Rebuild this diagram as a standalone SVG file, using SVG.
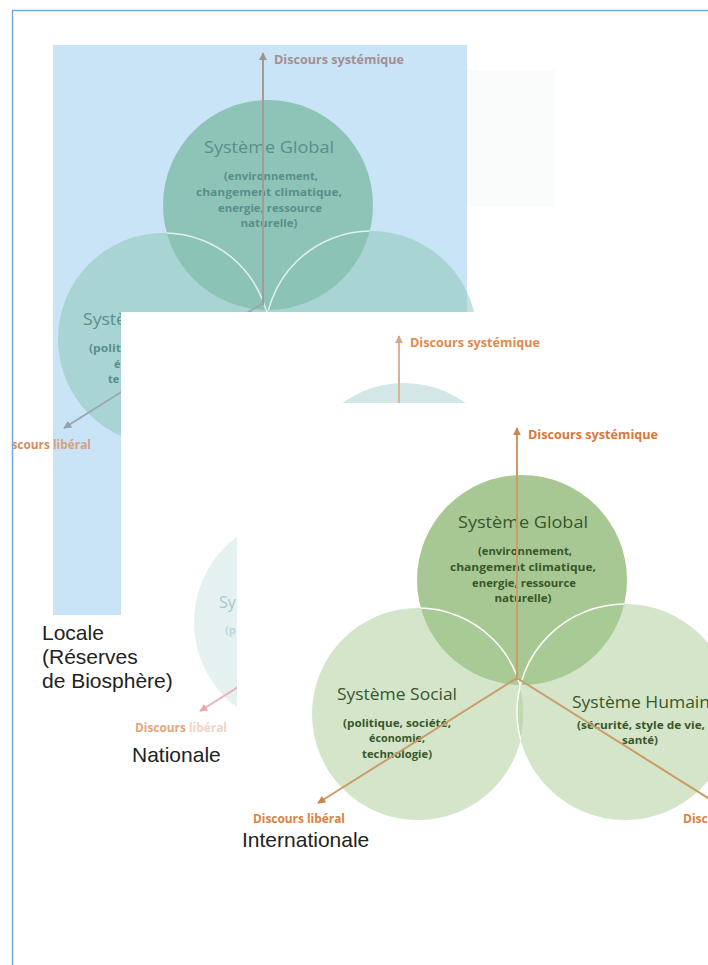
<svg xmlns="http://www.w3.org/2000/svg" width="708" height="965" viewBox="0 0 708 965">
<defs>
<style>
.lbl{font-family:"Liberation Sans",Arial,sans-serif;font-size:21px;fill:#222}
.t{font-family:"Open Sans","Liberation Sans",sans-serif;text-anchor:middle}
.ts{font-family:"Open Sans","Liberation Sans",sans-serif}
.ti{font-size:16px}
.sb{font-size:11px;font-weight:bold}
.dl{font-family:"Open Sans","Liberation Sans",sans-serif;font-size:12px;font-weight:bold}
.arc{fill:none;stroke:#fff;stroke-width:1.5}
.p1 .glob{fill:#8ec4b8}
.p1 .bot{fill:#88c3b1;fill-opacity:.5}
.p1 .arc{stroke-opacity:.75}
.p1 .tt{fill:#5a8e89}
.p1 .ln{stroke:#a39b96;stroke-width:2;fill:none}
.p1 .ln2{stroke:#98aab0;stroke-width:2;fill:none}
.p2 .glob{fill:#d3e8e6}
.p2 .bot{fill:#e4f1f0}
.p2 .ln{stroke:#dab192;stroke-width:2;fill:none}
.p2 .ln2{stroke:#e8b6b9;stroke-width:2;fill:none}
.p3 .glob{fill:#a7c892}
.p3 .bot{fill:#a9cb95;fill-opacity:.5}
.p3 .tt{fill:#38572a}
.p3 .ln{stroke:#c99c68;stroke-width:2;fill:none}
</style>
<marker id="a1" viewBox="0 0 10 10" refX="9" refY="5" markerWidth="8" markerHeight="8" markerUnits="userSpaceOnUse" orient="auto"><path d="M0,0 L10,5 L0,10 z" fill="#9c948f"/></marker>
<marker id="a1b" viewBox="0 0 10 10" refX="9" refY="5" markerWidth="8" markerHeight="8" markerUnits="userSpaceOnUse" orient="auto"><path d="M0,0 L10,5 L0,10 z" fill="#8fa3aa"/></marker>
<marker id="a2" viewBox="0 0 10 10" refX="9" refY="5" markerWidth="8" markerHeight="8" markerUnits="userSpaceOnUse" orient="auto"><path d="M0,0 L10,5 L0,10 z" fill="#d9a47f"/></marker>
<marker id="a2b" viewBox="0 0 10 10" refX="9" refY="5" markerWidth="8" markerHeight="8" markerUnits="userSpaceOnUse" orient="auto"><path d="M0,0 L10,5 L0,10 z" fill="#e6a8ad"/></marker>
<marker id="a3" viewBox="0 0 10 10" refX="9" refY="5" markerWidth="8" markerHeight="8" markerUnits="userSpaceOnUse" orient="auto"><path d="M0,0 L10,5 L0,10 z" fill="#c8874f"/></marker>
<clipPath id="cp1"><path d="M13,11 H708 V312 H121 V965 H13 Z"/></clipPath>
<clipPath id="cp2"><path d="M121,312 H708 V403 H237 V965 H121 Z"/></clipPath>
<clipPath id="cp3"><path d="M237,403 H708 V965 H237 Z"/></clipPath>
<!-- local (panel) coordinates -->
<clipPath id="inSocialArc"><circle cx="522" cy="580" r="105"/><circle cx="625" cy="712" r="108"/></clipPath>
<clipPath id="inHumainArc"><circle cx="522" cy="580" r="105"/><circle cx="418" cy="714" r="106"/></clipPath>
</defs>
<rect width="708" height="965" fill="#fff"/>

<!-- Panel 1 : Locale -->
<g id="panel-locale" class="p1" clip-path="url(#cp1)">
  <rect x="53" y="45" width="414" height="570" fill="#c8e4f6"/>
  <rect x="467" y="70" width="88" height="137" fill="#fafbfb"/>
  <g transform="translate(-254,-375)">
    <g id="p1-global">
      <circle class="glob" cx="522" cy="580" r="105"/>
    </g>
    <g id="p1-social"><circle class="bot" cx="418" cy="714" r="106"/><circle class="arc" cx="418" cy="714" r="106" clip-path="url(#inSocialArc)"/></g>
    <g id="p1-humain"><circle class="bot" cx="625" cy="712" r="106"/><circle class="arc" cx="625" cy="712" r="106" clip-path="url(#inHumainArc)"/></g>
    <g id="p1-global-text" class="t tt">
      <text class="ti" x="523" y="528" textLength="130" lengthAdjust="spacingAndGlyphs">Système Global</text>
      <text class="sb" x="525" y="555" textLength="94" lengthAdjust="spacingAndGlyphs">(environnement,</text>
      <text class="sb" x="523" y="571" textLength="146" lengthAdjust="spacingAndGlyphs">changement climatique,</text>
      <text class="sb" x="524" y="587" textLength="104" lengthAdjust="spacingAndGlyphs">energie, ressource</text>
      <text class="sb" x="523" y="602" textLength="57" lengthAdjust="spacingAndGlyphs">naturelle)</text>
    </g>
    <g id="p1-connectors">
      <line class="ln" x1="517" y1="680" x2="517" y2="428" marker-end="url(#a1)"/>
      <line class="ln2" x1="517" y1="678" x2="318" y2="803" marker-end="url(#a1b)"/>
      <text class="dl" x="528" y="439" fill="#a68f8e" textLength="130" lengthAdjust="spacingAndGlyphs">Discours systémique</text>
      <text class="dl" x="253" y="824" textLength="92" lengthAdjust="spacingAndGlyphs"><tspan fill="#d78d5b">Discours</tspan><tspan fill="#d7a27f"> libéral</tspan></text>
    </g>
  </g>
  <g id="p1-social-text" class="ts tt">
    <text class="ti" x="83" y="325" textLength="43" lengthAdjust="spacingAndGlyphs">Systè</text>
    <text class="sb" x="89" y="352" textLength="32" lengthAdjust="spacingAndGlyphs">(polit</text>
    <text class="sb" x="114" y="368">é</text>
    <text class="sb" x="108" y="383">te</text>
  </g>
</g>

<!-- Panel 2 : Nationale -->
<g id="panel-nationale" class="p2" clip-path="url(#cp2)">
  <rect x="121" y="312" width="587" height="653" fill="#fff"/>
  <g transform="translate(-118,-92)">
    <g id="p2-global"><circle class="glob" cx="522" cy="580" r="105"/></g>
    <g id="p2-social"><circle class="bot" cx="418" cy="714" r="106"/></g>
    <g id="p2-connectors">
      <line class="ln" x1="517" y1="680" x2="517" y2="428" marker-end="url(#a2)"/>
      <line class="ln2" x1="517" y1="678" x2="318" y2="803" marker-end="url(#a2b)"/>
      <text class="dl" x="528" y="439" fill="#e08a4b" textLength="130" lengthAdjust="spacingAndGlyphs">Discours systémique</text>
      <text class="dl" x="253" y="824" textLength="92" lengthAdjust="spacingAndGlyphs"><tspan fill="#e4a578">Discours</tspan><tspan fill="#f0d3c5"> libéral</tspan></text>
    </g>
  </g>
  <g id="p2-social-text" class="ts">
    <text class="ti" x="219" y="608" fill="#a2cbcb">Sy</text>
    <text class="sb" x="225" y="634" fill="#b9d9d9">(p</text>
  </g>
</g>

<!-- Panel 3 : Internationale -->
<g id="panel-internationale" class="p3" clip-path="url(#cp3)">
  <rect x="237" y="403" width="471" height="562" fill="#fff"/>
  <g id="p3-global"><circle class="glob" cx="522" cy="580" r="105"/></g>
  <g id="p3-social"><circle class="bot" cx="418" cy="714" r="106"/><circle class="arc" cx="418" cy="714" r="106" clip-path="url(#inSocialArc)"/></g>
  <g id="p3-humain"><circle class="bot" cx="625" cy="712" r="108"/><circle class="arc" cx="625" cy="712" r="108" clip-path="url(#inHumainArc)"/></g>
  <g id="p3-global-text" class="t tt">
    <text class="ti" x="523" y="528" textLength="130" lengthAdjust="spacingAndGlyphs">Système Global</text>
    <text class="sb" x="525" y="555" textLength="94" lengthAdjust="spacingAndGlyphs">(environnement,</text>
    <text class="sb" x="523" y="571" textLength="146" lengthAdjust="spacingAndGlyphs">changement climatique,</text>
    <text class="sb" x="524" y="587" textLength="104" lengthAdjust="spacingAndGlyphs">energie, ressource</text>
    <text class="sb" x="523" y="602" textLength="57" lengthAdjust="spacingAndGlyphs">naturelle)</text>
  </g>
  <g id="p3-social-text" class="t tt">
    <text class="ti" x="397" y="700" textLength="120" lengthAdjust="spacingAndGlyphs">Système Social</text>
    <text class="sb" x="397" y="727" textLength="108" lengthAdjust="spacingAndGlyphs">(politique, société,</text>
    <text class="sb" x="397" y="742" textLength="56" lengthAdjust="spacingAndGlyphs">économie,</text>
    <text class="sb" x="397" y="758" textLength="70" lengthAdjust="spacingAndGlyphs">technologie)</text>
  </g>
  <g id="p3-humain-text" class="ts tt">
    <text class="ti" x="572" y="708" textLength="138" lengthAdjust="spacingAndGlyphs">Système Humain</text>
    <text class="sb" x="577" y="729" textLength="128" lengthAdjust="spacingAndGlyphs">(sécurité, style de vie,</text>
    <text class="sb" x="622" y="744" textLength="36" lengthAdjust="spacingAndGlyphs">santé)</text>
  </g>
  <g id="p3-connectors">
    <line class="ln" x1="517" y1="680" x2="517" y2="428" marker-end="url(#a3)"/>
    <line class="ln" x1="517" y1="678" x2="318" y2="803" marker-end="url(#a3)"/>
    <line class="ln" x1="517" y1="678" x2="716" y2="803" marker-end="url(#a3)"/>
    <text class="dl" x="528" y="439" fill="#d9773b" textLength="130" lengthAdjust="spacingAndGlyphs">Discours systémique</text>
    <text class="dl" x="253" y="823" fill="#d9823f" textLength="92" lengthAdjust="spacingAndGlyphs">Discours libéral</text>
    <text class="dl" x="683" y="823" fill="#d9823f">Disc</text>
  </g>
</g>

<!-- Scale labels -->
<g id="labels" class="lbl">
  <text x="42" y="640">Locale</text>
  <text x="42" y="664">(Réserves</text>
  <text x="42" y="688">de Biosphère)</text>
  <text x="132" y="762">Nationale</text>
  <text x="242" y="847">Internationale</text>
</g>

<rect id="frame" x="12.5" y="10.5" width="800" height="1000" fill="none" stroke="#74aade" stroke-width="1.5"/>
</svg>
